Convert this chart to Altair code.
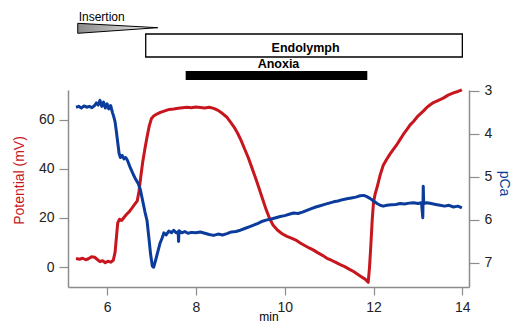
import altair as alt
import pandas as pd

# ---- data ----
red_t = [5.30, 5.38, 5.45, 5.52, 5.58, 5.65, 5.72, 5.78, 5.84, 5.90, 5.96, 6.02, 6.08, 6.14,
         6.18, 6.21, 6.24, 6.28, 6.33, 6.38, 6.44, 6.50, 6.56, 6.62, 6.68, 6.72, 6.76, 6.80,
         6.85, 6.90, 6.95, 7.00, 7.05, 7.12, 7.20, 7.30, 7.40, 7.50, 7.60, 7.70, 7.80, 7.90,
         8.00, 8.10, 8.20, 8.30, 8.40, 8.50, 8.60, 8.70, 8.78, 8.86, 8.94, 9.02, 9.10, 9.18,
         9.26, 9.34, 9.42, 9.50, 9.58, 9.66, 9.74, 9.84, 9.95, 10.05, 10.15, 10.25, 10.35,
         10.45, 10.55, 10.65, 10.75, 10.85, 10.95, 11.05, 11.15, 11.25, 11.35, 11.45, 11.55,
         11.65, 11.75, 11.82, 11.88, 11.91, 11.94, 11.97, 12.00, 12.04, 12.08, 12.15, 12.22,
         12.30, 12.37, 12.45, 12.53, 12.60, 12.67, 12.75, 12.82, 12.90, 13.00, 13.12, 13.20,
         13.27, 13.35, 13.45, 13.57, 13.68, 13.80, 13.90, 13.99]
red_mv = [3.5, 3.2, 3.6, 3.0, 3.4, 4.2, 4.0, 3.1, 2.2, 2.6, 1.8, 2.4, 2.0, 2.8,
          6.0, 12.0, 18.0, 19.5, 19.0, 20.2, 21.5, 22.6, 24.0, 25.5, 27.0, 31.0, 37.0, 42.5,
          48.0, 53.0, 57.5, 60.5, 61.5, 62.3, 63.0, 63.6, 64.2, 64.4, 64.7, 64.9, 65.1, 64.9,
          65.2, 65.0, 64.8, 65.1, 64.6, 63.8, 62.5, 61.0, 59.0, 57.0, 54.5, 51.5, 48.0, 44.5,
          40.5, 36.5, 32.2, 27.8, 23.5, 19.8, 17.0, 15.0, 13.5, 12.5, 11.8, 11.0, 9.8,
          8.8, 7.8, 6.9, 5.8, 4.8, 3.6, 2.8, 1.9, 1.0, 0.2, -0.8, -1.8,
          -3.0, -4.2, -5.0, -6.2, 0.0, 9.0, 19.0, 26.5, 30.0, 32.5, 37.5, 41.5,
          44.0, 46.0, 48.0, 50.0, 52.0, 54.0, 56.0, 57.8, 59.3, 61.5, 63.5, 65.0,
          66.0, 67.0, 67.8, 68.8, 70.0, 70.9, 71.5, 72.2]

blue_t = [5.30, 5.36, 5.42, 5.48, 5.54, 5.60, 5.66, 5.72, 5.76, 5.80, 5.84, 5.88, 5.92, 5.96,
          6.00, 6.04, 6.08, 6.12, 6.15, 6.18, 6.21, 6.24, 6.27, 6.30, 6.34, 6.38, 6.42, 6.46,
          6.52, 6.58, 6.64, 6.70, 6.75, 6.80, 6.85, 6.90, 6.94, 6.98, 7.02, 7.05, 7.09, 7.14,
          7.19, 7.24, 7.28, 7.33, 7.39, 7.45, 7.50, 7.56, 7.60, 7.61, 7.62, 7.68, 7.75, 7.82,
          7.90, 8.00, 8.10, 8.20, 8.30, 8.40, 8.50, 8.60, 8.70, 8.80, 8.90, 9.00, 9.10, 9.20,
          9.30, 9.40, 9.50, 9.60, 9.70, 9.80, 9.90, 10.00, 10.10, 10.20, 10.30, 10.40, 10.50,
          10.60, 10.70, 10.80, 10.90, 11.00, 11.10, 11.20, 11.30, 11.40, 11.50, 11.60, 11.70,
          11.78, 11.85, 11.92, 12.00, 12.08, 12.15, 12.22, 12.30, 12.40, 12.50, 12.60, 12.70,
          12.80, 12.90, 13.00, 13.08, 13.11, 13.12, 13.13, 13.20, 13.30, 13.40, 13.50, 13.60,
          13.70, 13.80, 13.90, 13.99]
blue_pca = [3.38, 3.36, 3.40, 3.35, 3.38, 3.36, 3.39, 3.34, 3.28, 3.33, 3.22, 3.36, 3.26, 3.40,
            3.30, 3.42, 3.34, 3.50, 3.60, 3.72, 3.95, 4.20, 4.45, 4.55, 4.50, 4.58, 4.55, 4.62,
            4.78, 4.92, 5.05, 5.15, 5.30, 5.55, 5.80, 6.02, 6.40, 6.80, 7.08, 7.10, 6.95, 6.75,
            6.55, 6.42, 6.30, 6.35, 6.26, 6.30, 6.24, 6.30, 6.28, 6.50, 6.25, 6.30, 6.27, 6.31,
            6.29, 6.30, 6.28, 6.31, 6.34, 6.36, 6.33, 6.35, 6.32, 6.28, 6.27, 6.24, 6.20, 6.16,
            6.12, 6.08, 6.03, 6.00, 5.98, 5.95, 5.92, 5.90, 5.87, 5.84, 5.85, 5.82, 5.78,
            5.74, 5.70, 5.67, 5.64, 5.61, 5.58, 5.56, 5.53, 5.51, 5.49, 5.47, 5.44,
            5.43, 5.46, 5.50, 5.56, 5.62, 5.66, 5.68, 5.66, 5.65, 5.64, 5.62, 5.63,
            5.61, 5.60, 5.62, 5.60, 5.95, 5.22, 5.62, 5.60, 5.62, 5.64, 5.66, 5.68,
            5.66, 5.70, 5.68, 5.72]

x_ticks = [6, 8, 10, 12, 14]
mv_ticks = [0, 20, 40, 60]
pca_ticks = [3, 4, 5, 6, 7]

# annotation bars (start, end in min)
bar_names = ["Endolymph", "Anoxia"]
bar_start = [6.87, 7.77]
bar_end = [14.0, 11.86]
bar_label_x = [10.47, 9.86]
insertion_start = 5.36
insertion_center = 6.24

RED = "#c8161e"
BLUE = "#0b3c9c"
FONT = "Liberation Sans"

red_df = pd.DataFrame({"t": red_t, "v": red_mv})
blue_df = pd.DataFrame({"t": blue_t, "v": blue_pca})

xscale = alt.Scale(domain=[5.12, 14.15], nice=False, zero=False)
xaxis = alt.Axis(values=x_ticks, title="min", grid=False, tickSize=8, labelPadding=5,
                 titleY=33, titleBaseline="alphabetic", titleFontSize=12,
                 titleFontWeight="normal")

red_line = alt.Chart(red_df).mark_line(color=RED, strokeWidth=3, strokeJoin="round").encode(
    x=alt.X("t:Q", scale=xscale, axis=xaxis),
    y=alt.Y("v:Q", scale=alt.Scale(domain=[-8.1, 72.1], nice=False, zero=False),
            axis=alt.Axis(orient="left", values=mv_ticks, title="Potential (mV)", titleColor=RED,
                          grid=False, tickSize=9, labelPadding=5, titlePadding=12, titleY=90)),
)

blue_line = alt.Chart(blue_df).mark_line(color=BLUE, strokeWidth=3, strokeJoin="round").encode(
    x=alt.X("t:Q", scale=xscale, axis=xaxis),
    y=alt.Y("v:Q", scale=alt.Scale(domain=[2.98, 7.56], nice=False, zero=False, reverse=True),
            axis=alt.Axis(orient="right", values=pca_ticks, title="pCa", titleColor=BLUE,
                          grid=False, tickSize=10, labelPadding=5, titlePadding=5, titleY=93)),
)

main = alt.layer(red_line, blue_line).resolve_scale(y="independent")

# annotations above the plot
endo_df = pd.DataFrame({"s": [bar_start[0]], "e": [bar_end[0]], "lx": [bar_label_x[0]], "name": [bar_names[0]]})
anox_df = pd.DataFrame({"s": [bar_start[1]], "e": [bar_end[1]], "lx": [bar_label_x[1]], "name": [bar_names[1]]})
ins_df = pd.DataFrame({"s": [insertion_start], "c": [insertion_center], "name": ["Insertion"]})

endo_box = alt.Chart(endo_df).mark_rect(fill="white", stroke="black", strokeWidth=1.3).encode(
    x=alt.X("s:Q", scale=xscale), x2="e:Q", y=alt.value(-56), y2=alt.value(-33))
endo_text = alt.Chart(endo_df).mark_text(font=FONT, fontWeight="bold", fontSize=12.5,
                                         baseline="middle", color="black").encode(
    x=alt.X("lx:Q", scale=xscale), y=alt.value(-42), text="name:N")
anox_bar = alt.Chart(anox_df).mark_rect(fill="black").encode(
    x=alt.X("s:Q", scale=xscale), x2="e:Q", y=alt.value(-19), y2=alt.value(-10))
anox_text = alt.Chart(anox_df).mark_text(font=FONT, fontWeight="bold", fontSize=12.5,
                                         baseline="middle", color="black").encode(
    x=alt.X("lx:Q", scale=xscale), y=alt.value(-26), text="name:N")
ins_text = alt.Chart(ins_df).mark_text(font=FONT, fontSize=12, align="left", baseline="middle",
                                       color="black").encode(
    x=alt.X("s:Q", scale=xscale), y=alt.value(-73.5), text="name:N")
wedge = alt.Chart(ins_df).mark_point(
    shape="M-1,-0.125L1,-0.015L-1,0.125Z", filled=True, opacity=1, size=6400,
    fill={"gradient": "linear", "x1": 0, "y1": 0, "x2": 1, "y2": 0,
          "stops": [{"offset": 0, "color": "#8a8a8a"}, {"offset": 1, "color": "#f2f2f2"}]},
    stroke="black", strokeWidth=1,
).encode(x=alt.X("c:Q", scale=xscale), y=alt.value(-61.7))

annotations = alt.layer(endo_box, endo_text, anox_bar, anox_text, ins_text, wedge)

chart = alt.layer(main, annotations).properties(
    width=401, height=197,
    padding={"left": 60, "top": 82, "right": 46, "bottom": 37},
    autosize=alt.AutoSizeParams(type="none"),
).configure_view(stroke=None).configure_axis(
    domainColor="#8c8c8c", tickColor="#8c8c8c", domainWidth=1.5, tickWidth=1.2,
    labelFont=FONT, titleFont=FONT, labelFontSize=14, titleFontSize=14,
    labelColor="#222", titleFontWeight="normal",
)

chart.save("out.html", embed_options={"renderer": "svg", "actions": False})
